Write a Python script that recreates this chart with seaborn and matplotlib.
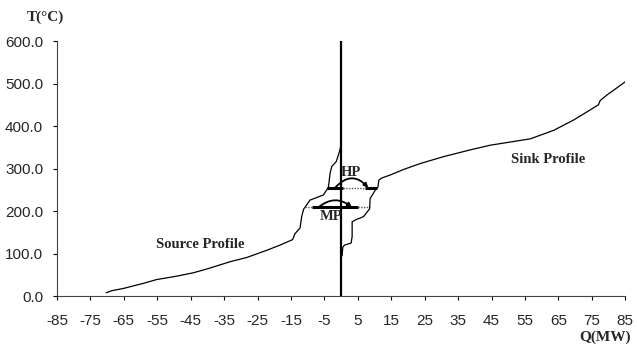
import matplotlib
matplotlib.use("Agg")
import matplotlib.pyplot as plt
import seaborn as sns
import pandas as pd

# ---- data ----
source_Q = [-70.3, -68.5, -65.2, -59.2, -55.2, -49.2, -44.2, -39.7, -33.2, -28.2,
            -22.2, -18.3, -14.5, -13.8, -12.3, -11.8, -11.2, -10.8, -9.3, -5.3,
            -3.8, -3.3, -2.8, -1.5, -1.1, -0.5, 0.0]
source_T = [8, 13, 18, 30, 39, 47, 55, 65, 81, 91,
            108, 120, 133, 147, 160, 187, 205, 209, 226, 238,
            256, 289, 305, 316, 325, 340, 355]

sink_Q = [0.3, 0.5, 1.0, 3.0, 3.3, 3.3, 4.5, 6.7, 8.5, 8.7, 9.5, 10.5, 11.0,
          11.3, 12.2, 14.7, 18.7, 23.7, 30.6, 38.6, 44.6, 52.6, 56.6, 63.6,
          69.5, 77.0, 77.5, 79.5, 82.0, 85.3]
sink_T = [95, 115, 120, 125, 140, 175, 180, 187, 205, 230, 240, 253, 256,
          273, 278, 285, 298, 312, 328, 344, 355, 365, 370, 390,
          414, 450, 460, 473, 487, 506]

hp_T = 255
hp_solid = [(-4.3, 0.7), (7.2, 10.7)]
hp_dotted = (0.7, 7.2)
hp_arrow = (-1.8, 8.1)

mp_T = 209
mp_solid = [(-8.8, 5.2)]
mp_dotted = [(-10.8, -8.8), (5.2, 8.7)]
mp_arrow = (-6.8, 3.2)

x_ticks = list(range(-85, 86, 10))
y_ticks = [0, 100, 200, 300, 400, 500, 600]

# ---- plotting ----
sns.set_style("ticks")
plt.rcParams["font.family"] = ["Liberation Sans", "DejaVu Sans"]

fig = plt.figure(figsize=(6.37, 3.48), dpi=100)
ax = fig.add_axes([0.0895, 0.149, 0.892, 0.733])

src = pd.DataFrame({"Q": source_Q, "T": source_T})
snk = pd.DataFrame({"Q": sink_Q, "T": sink_T})
sns.lineplot(data=src, x="Q", y="T", sort=False, estimator=None, color="black", lw=0.9, ax=ax)
sns.lineplot(data=snk, x="Q", y="T", sort=False, estimator=None, color="black", lw=0.9, ax=ax)

# vertical Q = 0 line
ax.plot([0, 0], [0, 600], color="black", lw=1.6)

# HP level
for a, b in hp_solid:
    ax.plot([a, b], [hp_T, hp_T], color="black", lw=2.2, solid_capstyle="butt")
ax.plot(list(hp_dotted), [hp_T, hp_T], color="#555555", lw=1.0, ls=(0, (1, 1)))
# MP level
for a, b in mp_solid:
    ax.plot([a, b], [mp_T, mp_T], color="black", lw=2.2, solid_capstyle="butt")
for a, b in mp_dotted:
    ax.plot([a, b], [mp_T, mp_T], color="#555555", lw=1.0, ls=(0, (1, 1)))

ax.annotate("", xy=(hp_arrow[1], hp_T), xytext=(hp_arrow[0], hp_T),
            arrowprops=dict(arrowstyle="-|>", connectionstyle="arc3,rad=-0.55",
                            lw=1.3, color="black", shrinkA=0, shrinkB=0,
                            mutation_scale=6))
ax.annotate("", xy=(mp_arrow[1], mp_T), xytext=(mp_arrow[0], mp_T),
            arrowprops=dict(arrowstyle="-|>", connectionstyle="arc3,rad=-0.4",
                            lw=1.3, color="black", shrinkA=0, shrinkB=0,
                            mutation_scale=6))

serif = ["Liberation Serif", "DejaVu Serif"]
ax.text(3.0, 292, "HP", family=serif, weight="bold", fontsize=10.5, ha="center", va="center")
ax.text(-3.0, 188, "MP", family=serif, weight="bold", fontsize=10.5, ha="center", va="center")
ax.text(-42.2, 122, "Source Profile", family=serif, weight="bold", fontsize=10.5, ha="center", va="center")
ax.text(62, 322, "Sink Profile", family=serif, weight="bold", fontsize=10.5, ha="center", va="center")

fig.text(0.071, 0.951, "T(°C)", family=serif, weight="bold", fontsize=11, ha="center", va="center")
fig.text(0.95, 0.03, "Q(MW)", family=serif, weight="bold", fontsize=11, ha="center", va="center")

ax.set_xlim(-85, 85)
ax.set_ylim(0, 600)
ax.set_xticks(x_ticks)
ax.set_xticklabels([str(v) for v in x_ticks])
ax.set_yticks(y_ticks)
ax.set_yticklabels([f"{v:.1f}" for v in y_ticks])
ax.set_xlabel("")
ax.set_ylabel("")
ax.tick_params(axis="x", length=3, width=0.8, pad=10, labelsize=11, color="black")
ax.tick_params(axis="y", length=3, width=0.8, pad=7, labelsize=11, color="black")
sns.despine(ax=ax)
for s in ["left", "bottom"]:
    ax.spines[s].set_color("#444444")
    ax.spines[s].set_linewidth(0.8)

fig.savefig("out.png", dpi=100)
